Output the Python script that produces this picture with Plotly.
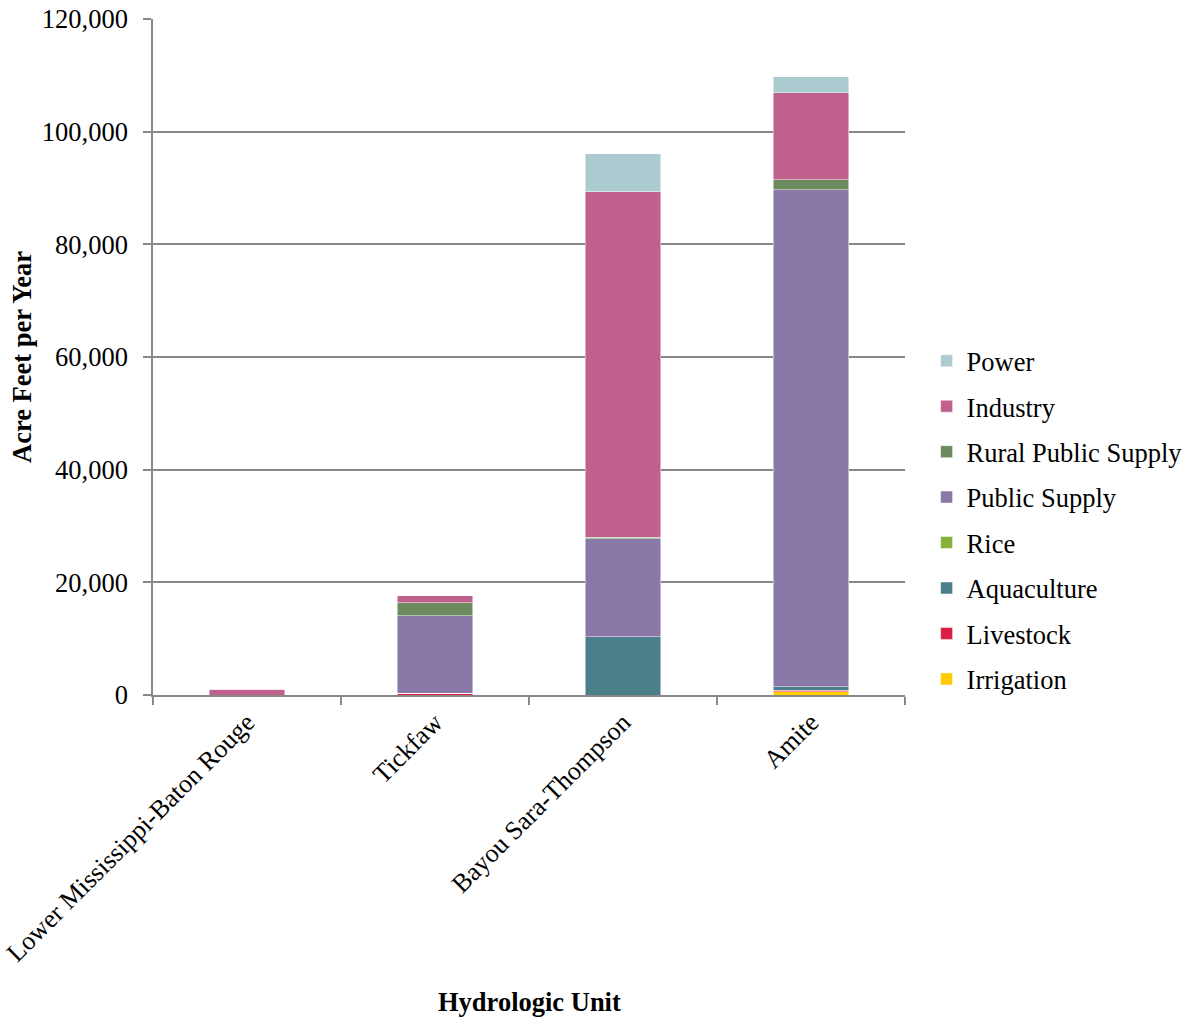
import plotly.graph_objects as go

units = ["Lower Mississippi-Baton Rouge", "Tickfaw", "Bayou Sara-Thompson", "Amite"]

irrigation = [0, 0, 0, 600]
livestock = [0, 300, 0, 250]
aquaculture = [0, 0, 10300, 600]
rice = [0, 0, 0, 0]
public_supply = [0, 13800, 17400, 88200]
rural_public_supply = [0, 2300, 300, 1780]
industry = [1000, 1240, 61300, 15500]
power = [0, 0, 6800, 2840]

series = [
    ("Irrigation", irrigation, "#FFCC00"),
    ("Livestock", livestock, "#DC1E42"),
    ("Aquaculture", aquaculture, "#4B7F8A"),
    ("Rice", rice, "#86B23A"),
    ("Public Supply", public_supply, "#8A78A8"),
    ("Rural Public Supply", rural_public_supply, "#6B8A5E"),
    ("Industry", industry, "#C0608C"),
    ("Power", power, "#ACCBD0"),
]

font_family = "Liberation Serif, Times New Roman, serif"
fs = 26.5

W, H = 1190, 1019
L, T = 153, 19
R_px, B_px = 905, 695
plot_w = R_px - L
plot_h = B_px - T

fig = go.Figure()
n = len(series)
for i, (name, vals, color) in enumerate(series):
    fig.add_trace(go.Bar(
        x=units, y=vals, name=name, legendgroup=name, legendrank=n - i,
        marker=dict(color=color, line=dict(color="rgba(255,255,255,0.6)", width=0.8)),
    ))

def px_to_paper_x(px):
    return (px - L) / plot_w

def px_to_paper_y(py):
    return (B_px - py) / plot_h

fig.update_layout(
    barmode="stack",
    bargap=0.6,
    width=W, height=H,
    margin=dict(l=L, r=W - R_px, t=T, b=H - B_px, autoexpand=False),
    plot_bgcolor="white", paper_bgcolor="white",
    font=dict(family=font_family, size=fs, color="black"),
    legend=dict(
        traceorder="grouped", x=px_to_paper_x(926.6), xanchor="left",
        y=px_to_paper_y(520), yanchor="middle",
        tracegroupgap=8, font=dict(family=font_family, size=fs, color="black"),
        itemwidth=30,
    ),
    xaxis=dict(
        type="category", tickson="boundaries", ticks="outside", ticklen=8,
        tickcolor="#888888", tickwidth=1.5, showline=True, linecolor="#888888", linewidth=1.5,
        tickangle=-45, tickfont=dict(family=font_family, size=26, color="black"),
        showgrid=False, automargin=False, ticklabeloverflow="allow",
    ),
    yaxis=dict(
        range=[0, 120000], dtick=20000, tickformat=",d",
        ticks="outside", ticklen=8, tickcolor="#888888", tickwidth=1.5,
        showline=True, linecolor="#888888", linewidth=1.5,
        showgrid=True, gridcolor="#888888", gridwidth=1.5,
        zeroline=False, ticklabelstandoff=10, automargin=False,
        ticklabeloverflow="allow",
        tickfont=dict(family=font_family, size=fs, color="black"),
    ),
    annotations=[
        dict(text="<b>Acre Feet per Year</b>", x=px_to_paper_x(22), y=px_to_paper_y(357),
             xref="paper", yref="paper", xanchor="center", yanchor="middle",
             showarrow=False, textangle=-90, font=dict(family=font_family, size=fs, color="black")),
        dict(text="<b>Hydrologic Unit</b>", x=px_to_paper_x(529), y=px_to_paper_y(1002),
             xref="paper", yref="paper", xanchor="center", yanchor="middle",
             showarrow=False, font=dict(family=font_family, size=fs, color="black")),
    ],
)

fig.write_html("out.html", config={"displayModeBar": False},
               post_script="document.body.style.margin='0';")
